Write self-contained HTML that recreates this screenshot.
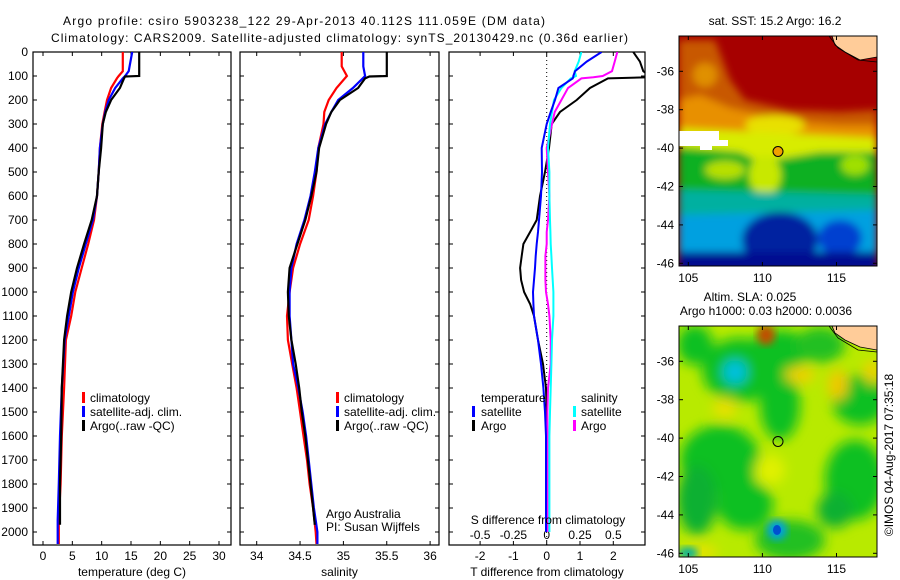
<!DOCTYPE html>
<html><head><meta charset="utf-8"><style>
body{margin:0;background:#fff;}
svg{display:block;font-family:"Liberation Sans",Arial,sans-serif;}
text{font-size:12px;fill:#000;}
</style></head><body>
<svg id="fig" width="900" height="580" viewBox="0 0 900 580" xmlns="http://www.w3.org/2000/svg">
<defs>
<filter id="bl" x="-20%" y="-20%" width="140%" height="140%"><feGaussianBlur stdDeviation="4"/></filter>
<filter id="bl2" x="-30%" y="-30%" width="160%" height="160%"><feGaussianBlur stdDeviation="6"/></filter>
<clipPath id="c1"><rect x="679" y="36" width="198" height="230"/></clipPath>
<clipPath id="c2"><rect x="679" y="326" width="198" height="231"/></clipPath>
<clipPath id="cp1"><rect x="33" y="52" width="198" height="493"/></clipPath>
<clipPath id="cp2"><rect x="240" y="52" width="199" height="493"/></clipPath>
<clipPath id="cp3"><rect x="449" y="52" width="196" height="493"/></clipPath>
</defs>
<text x="63" y="25" textLength="482" font-size="13">Argo profile: csiro 5903238_122 29-Apr-2013 40.112S 111.059E (DM data)</text>
<text x="51" y="42" textLength="577" font-size="13">Climatology: CARS2009. Satellite-adjusted climatology: synTS_20130429.nc (0.36d earlier)</text>

<!-- SST map -->
<g>
<g clip-path="url(#c1)">
<rect x="679" y="36" width="198" height="230" fill="#a60000"/>
<g filter="url(#bl)">
<polygon points="679,40 715,40 730,80 745,100 790,110 840,112 877,110 877,150 679,150" fill="#c85800"/>
<polygon points="679,100 700,95 730,108 760,115 800,122 840,125 877,125 877,150 679,150" fill="#e89000"/>
<ellipse cx="705" cy="75" rx="12" ry="12" fill="#e09000"/>
<ellipse cx="775" cy="125" rx="30" ry="10" fill="#e8e000"/>
<polygon points="679,128 877,138 877,175 820,180 679,170" fill="#d8ec00"/>
<polygon points="679,147 740,152 760,162 790,157 820,152 877,152 877,260 679,260" fill="#10b020"/>
<ellipse cx="765" cy="175" rx="16" ry="20" fill="#c8e800"/>
<ellipse cx="725" cy="170" rx="20" ry="9" fill="#b8e000"/>
<ellipse cx="855" cy="165" rx="14" ry="10" fill="#a0e000"/>
<polygon points="679,190 877,195 877,266 679,266" fill="#00b0a0"/>
<polygon points="679,215 877,210 877,266 679,266" fill="#00a0e0"/>
<ellipse cx="780" cy="240" rx="38" ry="28" fill="#0020a0"/>
<ellipse cx="840" cy="238" rx="22" ry="18" fill="#0040d0"/>
<rect x="679" y="252" width="198" height="20" fill="#000890"/>
</g>
<polygon points="679,131 719,131 719,140 728,140 728,146 712,146 712,150 700,150 700,146 679,146" fill="#fff"/>
<polygon points="832,36 877,36 877,57 860,60 845,52 835,45" fill="#ffcc99" stroke="#000" stroke-width="0.8"/>
<polyline points="829,36 838,48 858,60 877,62" fill="none" stroke="#000" stroke-width="0.8"/>
<circle cx="778" cy="151.5" r="5" fill="#f0a000" stroke="#000"/>
</g>
<rect x="679" y="36" width="198" height="230" fill="none" stroke="#000"/>
</g>
<text x="775" y="25" text-anchor="middle" font-size="11">sat. SST: 15.2 Argo: 16.2</text>

<!-- SLA map -->
<g>
<g clip-path="url(#c2)">
<rect x="679" y="326" width="198" height="231" fill="#b8ea00"/>
<g filter="url(#bl2)">
<ellipse cx="740" cy="370" rx="38" ry="32" fill="#10c020"/>
<ellipse cx="735" cy="372" rx="12" ry="12" fill="#00c0e0"/>
<ellipse cx="780" cy="350" rx="30" ry="20" fill="#10c020"/>
<ellipse cx="780" cy="405" rx="20" ry="35" fill="#10c020"/>
<ellipse cx="695" cy="345" rx="18" ry="20" fill="#10c020"/>
<ellipse cx="720" cy="460" rx="40" ry="35" fill="#10c020"/>
<ellipse cx="697" cy="500" rx="20" ry="35" fill="#10b030"/>
<ellipse cx="745" cy="505" rx="28" ry="25" fill="#10c020"/>
<ellipse cx="790" cy="540" rx="35" ry="20" fill="#20c020"/>
<ellipse cx="860" cy="400" rx="28" ry="25" fill="#10c020"/>
<ellipse cx="855" cy="480" rx="30" ry="40" fill="#10c020"/>
<ellipse cx="835" cy="510" rx="18" ry="18" fill="#10b030"/>
<ellipse cx="820" cy="345" rx="25" ry="18" fill="#20c020"/>
<ellipse cx="800" cy="375" rx="15" ry="8" fill="#f0d000"/>
<ellipse cx="838" cy="385" rx="10" ry="15" fill="#f0c800"/>
<ellipse cx="872" cy="372" rx="8" ry="12" fill="#f0d000"/>
<ellipse cx="725" cy="408" rx="12" ry="10" fill="#e8e000"/>
<ellipse cx="770" cy="470" rx="15" ry="15" fill="#e0f000"/>
<ellipse cx="700" cy="552" rx="18" ry="6" fill="#f0e000"/>
</g>
<ellipse cx="766" cy="335" rx="9" ry="10" fill="#c05000" filter="url(#bl)"/>
<ellipse cx="777" cy="530" rx="10" ry="10" fill="#00a0e0" filter="url(#bl)"/>
<ellipse cx="777" cy="530" rx="4" ry="5" fill="#0050d0"/>
<ellipse cx="688" cy="553" rx="10" ry="6" fill="#00b0a0" filter="url(#bl)"/>
<polygon points="832,326 877,326 877,350 860,347 845,340 835,333" fill="#ffcc99" stroke="#000" stroke-width="0.8"/>
<polyline points="829,326 838,338 858,350 877,352" fill="none" stroke="#000" stroke-width="0.8"/>
<circle cx="778" cy="441.5" r="5" fill="none" stroke="#000"/>
</g>
<rect x="679" y="326" width="198" height="231" fill="none" stroke="#000"/>
</g>
<text x="750" y="301" text-anchor="middle" font-size="11">Altim. SLA: 0.025</text>
<text x="766" y="315" text-anchor="middle" font-size="11">Argo h1000: 0.03 h2000: 0.0036</text>
<text transform="translate(893,455) rotate(-90)" text-anchor="middle" font-size="11">©IMOS 04-Aug-2017 07:35:18</text>

<g id="axes"></g>
<g id="marks"></g>
<g id="legends">
<rect x="82" y="392" width="3" height="11" fill="#f00"/><text x="90" y="402">climatology</text>
<rect x="82" y="406" width="3" height="11" fill="#00f"/><text x="90" y="416">satellite-adj. clim.</text>
<rect x="82" y="420" width="3" height="11" fill="#000"/><text x="90" y="430">Argo(..raw -QC)</text>
<rect x="336" y="392" width="3" height="11" fill="#f00"/><text x="344" y="402">climatology</text>
<rect x="336" y="406" width="3" height="11" fill="#00f"/><text x="344" y="416">satellite-adj. clim.</text>
<rect x="336" y="420" width="3" height="11" fill="#000"/><text x="344" y="430">Argo(..raw -QC)</text>
<text x="481" y="402">temperature</text>
<rect x="472" y="406" width="3" height="11" fill="#00f"/><text x="481" y="416">satellite</text>
<rect x="472" y="420" width="3" height="11" fill="#000"/><text x="481" y="430">Argo</text>
<text x="581" y="402">salinity</text>
<rect x="573" y="406" width="3" height="11" fill="#0ff"/><text x="581" y="416">satellite</text>
<rect x="573" y="420" width="3" height="11" fill="#f0f"/><text x="581" y="430">Argo</text>
<text x="326" y="518">Argo Australia</text>
<text x="326" y="531">PI: Susan Wijffels</text>
<text x="548" y="524" text-anchor="middle">S difference from climatology</text>
</g>
</svg>
<script>
// ---- depth levels (m) ----
const depthT = [0,80,100,110,150,200,250,300,400,500,600,700,800,900,1000,1100,1200,1400,1600,1800,1950,2050];
// temperature (deg C)
const tempClim = [13.6,13.6,12.9,12.6,11.6,10.9,10.5,10.1,9.7,9.5,9.2,8.7,7.7,6.6,5.5,4.8,3.9,3.6,3.2,3.0,2.7,2.7];
const tempSat  = [15.2,14.6,14.0,13.6,12.3,11.2,10.6,10.2,9.7,9.5,9.2,8.5,7.3,6.1,5.1,4.4,3.7,3.2,2.9,2.7,2.5,2.5];
const depthArgo = [0,100,102,110,150,200,250,300,400,500,600,700,800,900,1000,1100,1200,1400,1600,1800,1900,1970];
const tempArgo = [16.4,16.4,14.0,13.8,13.1,11.6,10.7,10.2,9.9,9.5,9.2,8.3,7.0,5.8,4.8,4.1,3.6,3.2,3.1,2.9,2.9,2.9];
// salinity
const depthS = [0,60,100,150,200,250,300,400,500,600,700,800,900,1000,1100,1200,1300,1400,1500,1600,1700,1800,1900,2000,2050];
const salClim = [34.98,34.98,35.04,34.92,34.83,34.78,34.77,34.71,34.69,34.65,34.60,34.50,34.42,34.38,34.35,34.36,34.41,34.46,34.50,34.54,34.58,34.61,34.65,34.68,34.69];
const salSat  = [35.23,35.23,35.25,35.11,34.94,34.86,34.79,34.71,34.67,34.62,34.55,34.46,34.40,34.38,34.38,34.40,34.42,34.48,34.53,34.57,34.60,34.63,34.66,34.70,34.70];
const depthSA = [0,100,102,110,150,200,250,300,400,500,600,700,800,900,1000,1100,1200,1300,1400,1500,1600,1700,1800,1900,1970];
const salArgo = [35.50,35.50,35.30,35.25,35.17,34.96,34.86,34.80,34.72,34.69,34.63,34.56,34.47,34.38,34.36,34.37,34.40,34.45,34.49,34.52,34.56,34.59,34.62,34.65,34.67];
// differences
const depthD = [0,40,80,100,105,110,150,200,250,300,400,500,600,700,750,800,850,900,950,1000,1050,1100,1200,1300,1400,1500,1600,1800,2000];
const dTArgo = [2.6,2.8,2.9,3.1,3.1,1.84,1.3,0.9,0.4,0.15,0.07,-0.05,-0.2,-0.3,-0.5,-0.7,-0.75,-0.8,-0.77,-0.68,-0.5,-0.38,-0.26,-0.11,-0.02,0,0,0,0];
const dTSat  = [1.65,1.2,0.85,0.8,0.8,0.78,0.35,0.25,0.12,0,-0.15,-0.14,-0.17,-0.23,-0.26,-0.3,-0.33,-0.35,-0.38,-0.41,-0.4,-0.38,-0.26,-0.17,-0.1,-0.05,-0.02,-0.02,-0.02];
const dSArgo = [0.53,0.51,0.49,0.42,0.35,0.26,0.16,0.11,0.06,0.04,0,0.01,0.02,0.01,0,0,-0.01,-0.01,-0.01,-0.005,0.01,0.02,0.03,0.03,0.01,0.005,0.005,0.005,0.005];
const dSSat  = [0.26,0.24,0.21,0.22,0.2,0.18,0.11,0.055,0.04,0.025,0.01,0.02,0.02,0.025,0.028,0.03,0.035,0.04,0.045,0.05,0.05,0.05,0.04,0.035,0.03,0.025,0.02,0.02,0.02];
// tick labels
const depthTicks = [0,100,200,300,400,500,600,700,800,900,1000,1100,1200,1300,1400,1500,1600,1700,1800,1900,2000];
const tempTicks = [0,5,10,15,20,25,30];
const salTicks = [34,34.5,35,35.5,36];
const dTTicks = [-2,-1,0,1,2];
const dSTicks = [-0.5,-0.25,0,0.25,0.5];
const dSTickLabels = ["-0.5","-0.25","0","0.25","0.5"];
const latTicks = [-36,-38,-40,-42,-44,-46];
const lonTicks = [105,110,115];

const NS='http://www.w3.org/2000/svg';
const yD = d => 52 + d*0.24;
const xT = t => 43 + t*5.867;
const xS = s => 256.7 + (s-34)*86.7;
const xDT = t => 546.7 + t*33.3;
const xDS = s => 546.7 + s*133.3;
const xLon = l => 688.3 + (l-105)*14.82;
const yLat1 = la => 71.3 + (-36-la)*19.2;
const yLat2 = la => 361.3 + (-36-la)*19.2;
const axes = document.getElementById('axes');
const marks = document.getElementById('marks');
function mk(tag, attrs, parent){const e=document.createElementNS(NS,tag);for(const k in attrs)e.setAttribute(k,attrs[k]);parent.appendChild(e);return e;}

const panels = [
 {x0:33,x1:231,ticks:tempTicks,lab:tempTicks.map(String),fx:xT,title:'temperature (deg C)',name:'temperature-panel'},
 {x0:240,x1:439,ticks:salTicks,lab:salTicks.map(String),fx:xS,title:'salinity',name:'salinity-panel'},
 {x0:449,x1:645,ticks:dTTicks,lab:dTTicks.map(String),fx:xDT,title:'T difference from climatology',name:'difference-panel'}
];
panels.forEach((p,i)=>{
  const g = mk('g',{},axes);
  
  
  mk('rect',{x:p.x0,y:52,width:p.x1-p.x0,height:493,fill:'none',stroke:'#000','stroke-width':1.2},g);
  depthTicks.forEach(d=>{
    const y=yD(d);
    mk('line',{x1:p.x0,x2:p.x0+4,y1:y,y2:y,stroke:'#000'},g);
    mk('line',{x1:p.x1-4,x2:p.x1,y1:y,y2:y,stroke:'#000'},g);
  });
  p.ticks.forEach((t,j)=>{
    const x=p.fx(t);
    mk('line',{x1:x,x2:x,y1:52,y2:56,stroke:'#000'},g);
    mk('line',{x1:x,x2:x,y1:541,y2:545,stroke:'#000'},g);
    const tx=mk('text',{x:x,y:560,'text-anchor':'middle'},g); tx.textContent=p.lab[j];
  });
  const tt=mk('text',{x:(p.x0+p.x1)/2,y:576,'text-anchor':'middle'},g); tt.textContent=p.title;
});
const dl = mk('g',{},axes);


depthTicks.forEach(d=>{const t=mk('text',{x:28,y:yD(d)+4,'text-anchor':'end'},dl);t.textContent=String(d);});
const sl = mk('g',{},axes);


dSTicks.forEach((s,j)=>{const t=mk('text',{x:xDS(s),y:539,'text-anchor':'middle'},sl);t.textContent=dSTickLabels[j];});
// map axes
[{fy:yLat1,top:36,bot:266,name:'sst-map-axes'},{fy:yLat2,top:326,bot:557,name:'sla-map-axes'}].forEach(m=>{
  const g = mk('g',{},axes);
  
  
  latTicks.forEach(la=>{
    const y=m.fy(la);
    mk('line',{x1:679,x2:683,y1:y,y2:y,stroke:'#000'},g);
    mk('line',{x1:873,x2:877,y1:y,y2:y,stroke:'#000'},g);
    const t=mk('text',{x:674,y:y+4,'text-anchor':'end'},g); t.textContent=String(la);
  });
  lonTicks.forEach(lo=>{
    const x=xLon(lo);
    mk('line',{x1:x,x2:x,y1:m.top,y2:m.top+4,stroke:'#000'},g);
    mk('line',{x1:x,x2:x,y1:m.bot-4,y2:m.bot,stroke:'#000'},g);
    const t=mk('text',{x:x,y:m.bot+16,'text-anchor':'middle'},g); t.textContent=String(lo);
  });
});
// zero line
mk('line',{x1:xDT(0),x2:xDT(0),y1:52,y2:545,stroke:'#000','stroke-dasharray':'1,3'},axes);

function line(depths, vals, fx, color, w, clip, name){
  const pts = depths.map((d,i)=>fx(vals[i]).toFixed(1)+','+yD(d).toFixed(1)).join(' ');
  const pl = mk('polyline',{points:pts,fill:'none',stroke:color,'stroke-width':w,'clip-path':'url(#'+clip+')'},marks);
  
  
}
line(depthT,tempClim,xT,'#f00',2.2,'cp1','temp-climatology-line');
line(depthT,tempSat,xT,'#00f',2.2,'cp1','temp-satellite-line');
line(depthArgo,tempArgo,xT,'#000',2.2,'cp1','temp-argo-line');
line(depthS,salClim,xS,'#f00',2.2,'cp2','sal-climatology-line');
line(depthS,salSat,xS,'#00f',2.2,'cp2','sal-satellite-line');
line(depthSA,salArgo,xS,'#000',2.2,'cp2','sal-argo-line');
line(depthD,dTArgo,xDT,'#000',2,'cp3','dt-argo-line');
line(depthD,dSArgo,xDS,'#f0f',2,'cp3','ds-argo-line');
line(depthD,dSSat,xDS,'#0ff',2,'cp3','ds-satellite-line');
line(depthD,dTSat,xDT,'#00f',2,'cp3','dt-satellite-line');
</script>
</body></html>
